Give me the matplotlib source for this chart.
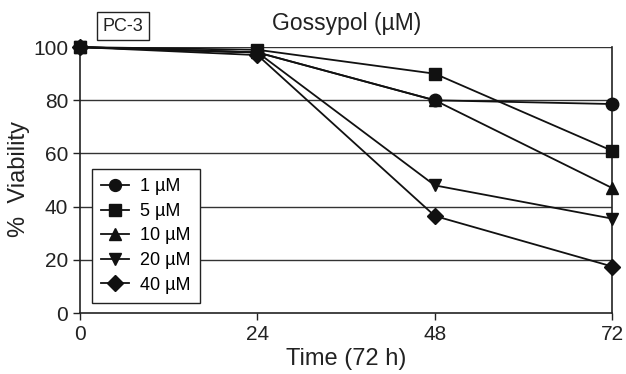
import matplotlib
matplotlib.use("Agg")
import matplotlib.pyplot as plt

plt.rcParams['font.family'] = ['Liberation Sans', 'DejaVu Sans']

times = [0, 24, 48, 72]
labels = ['1 µM', '5 µM', '10 µM', '20 µM', '40 µM']
v1 = [100, 98, 80, 78.6]
v5 = [100, 99, 90, 61]
v10 = [100, 98, 80, 47]
v20 = [100, 98, 48, 35.5]
v40 = [100, 97, 36.5, 17.5]
series = [v1, v5, v10, v20, v40]
markers = ['o', 's', '^', 'v', 'D']
sizes = [9, 8.5, 9, 9, 8.5]

fig = plt.figure(figsize=(6.26, 3.74), dpi=100)
ax = fig.add_axes([0.128, 0.163, 0.850, 0.711])

for y in [20, 40, 60, 80, 100]:
    ax.axhline(y, color='#333333', lw=1.0, zorder=1)

for vals, m, s, lab in zip(series, markers, sizes, labels):
    ax.plot(times, vals, color='#111111', lw=1.3, marker=m, ms=s,
            mfc='#111111', mec='#111111', label=lab, zorder=3, clip_on=False)

ax.set_xlim(0, 72)
ax.set_ylim(0, 100)
ax.set_xticks(times)
ax.set_yticks([0, 20, 40, 60, 80, 100])
ax.tick_params(direction='out', length=5, width=1, labelsize=15, color='#222222', labelcolor='#222222')
for sp in ['left', 'bottom', 'right']:
    ax.spines[sp].set_color('#222222')
    ax.spines[sp].set_linewidth(1.2)
ax.spines['top'].set_visible(False)

ax.set_xlabel('Time (72 h)', fontsize=17, color='#222222', labelpad=3)
ax.set_ylabel('%  Viability', fontsize=17, color='#222222')
ax.yaxis.set_label_coords(-0.095, 0.505)

ax.text(0.5, 1.09, 'Gossypol (µM)', transform=ax.transAxes, ha='center', va='center',
        fontsize=16.5, color='#222222')
ax.text(0.081, 1.078, 'PC-3', transform=ax.transAxes, ha='center', va='center',
        fontsize=13, color='#222222',
        bbox=dict(boxstyle='square,pad=0.3', fc='white', ec='#222222', lw=1))

leg = ax.legend(loc='lower left', bbox_to_anchor=(0.006, 0.005), fontsize=13,
                frameon=True, fancybox=False, edgecolor='#222222',
                handlelength=1.55, handletextpad=0.6, labelspacing=0.42,
                borderpad=0.5, markerscale=0.95)
leg.get_frame().set_linewidth(1.0)
leg.get_frame().set_alpha(1)
leg.set_zorder(5)

fig.savefig('out.png', dpi=100)
